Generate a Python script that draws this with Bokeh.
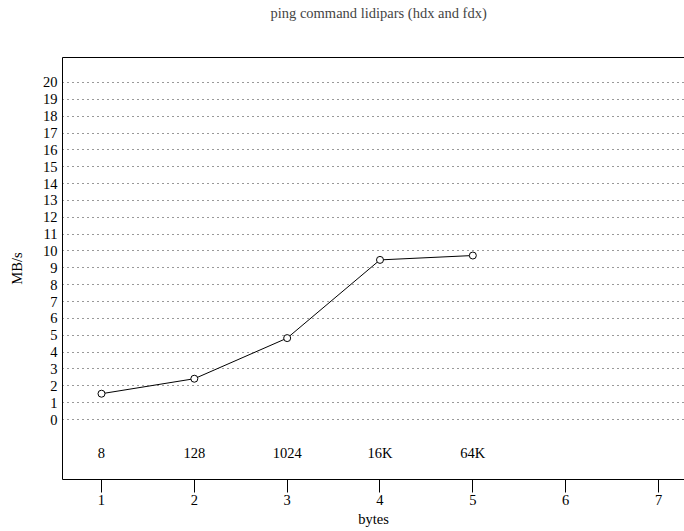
from bokeh.plotting import figure
from bokeh.models import LinearAxis, FixedTicker, Range1d, ColumnDataSource
from bokeh.core.properties import value
from bokeh.embed import file_html
from bokeh.resources import INLINE

# Data
x_pos = [1, 2, 3, 4, 5]
bytes_labels = ["8", "128", "1024", "16K", "64K"]
mbps = [1.53, 2.42, 4.83, 9.47, 9.73]
label_row = [-2, -2, -2, -2, -2]
x_ticks = [1, 2, 3, 4, 5, 6, 7]
y_ticks = list(range(0, 21))

FONT = "Liberation Serif"
FS = "14.5px"

p = figure(width=684, height=531,
           x_range=Range1d(0.58, 7.28), y_range=Range1d(-3.56, 21.48),
           output_backend="svg", toolbar_location=None,
           min_border_left=62, min_border_right=0, min_border_top=57, min_border_bottom=52,
           x_axis_label="bytes", y_axis_label="MB/s",
           title="ping command lidipars (hdx and fdx)")

p.outline_line_color = None
p.background_fill_color = "white"
p.border_fill_color = "white"

# Title
p.title.text_font = FONT
p.title.text_font_size = FS
p.title.text_font_style = "normal"
p.title.align = "left"
p.title.offset = 208
p.title.standoff = 2

# X axis
xa = p.xaxis[0]
xa.ticker = FixedTicker(ticks=x_ticks)
xa.major_tick_out = 13
xa.major_tick_in = 0
xa.minor_tick_line_color = None
xa.major_label_standoff = 2
xa.axis_label_standoff = 3
xa.axis_line_color = "black"
xa.major_tick_line_color = "black"
xa.major_label_text_font = FONT
xa.major_label_text_font_size = FS
xa.major_label_text_color = "black"
xa.axis_label_text_font = FONT
xa.axis_label_text_font_size = FS
xa.axis_label_text_font_style = "normal"
xa.axis_label_text_color = "black"

# Y axis
ya = p.yaxis[0]
ya.ticker = FixedTicker(ticks=y_ticks)
ya.major_tick_out = 0
ya.major_tick_in = 0
ya.minor_tick_line_color = None
ya.major_label_standoff = 5
ya.axis_label_standoff = 15
ya.axis_line_color = "black"
ya.major_label_text_font = FONT
ya.major_label_text_font_size = FS
ya.major_label_text_color = "black"
ya.axis_label_text_font = FONT
ya.axis_label_text_font_size = FS
ya.axis_label_text_font_style = "normal"
ya.axis_label_text_color = "black"

# Top border as an axis; one invisible tick gives the space above the frame
top = LinearAxis(ticker=FixedTicker(ticks=[x_ticks[0]]), major_tick_out=36, major_tick_in=0,
                 major_tick_line_color=None, minor_tick_line_color=None,
                 major_label_overrides={x_ticks[0]: ""},
                 major_label_text_font_size="0px", major_label_standoff=0,
                 axis_line_color="black")
p.add_layout(top, "above")

# Grid
p.xgrid.grid_line_color = None
p.ygrid.ticker = FixedTicker(ticks=y_ticks)
p.ygrid.grid_line_color = "#333333"
p.ygrid.grid_line_dash = "1 4"
p.ygrid.grid_line_width = 1

src = ColumnDataSource(dict(x=x_pos, y=mbps, lab=bytes_labels, ly=label_row))

p.line("x", "y", source=src, line_color="black", line_width=1)
p.scatter("x", "y", source=src, marker="circle", size=7, fill_color="white",
          line_color="black", line_width=1)

p.text("x", "ly", text="lab", source=src, text_font=value(FONT), text_font_size=FS,
       text_align="center", text_baseline="middle", text_color="black")

open("out.html", "w").write(file_html(p, INLINE))
